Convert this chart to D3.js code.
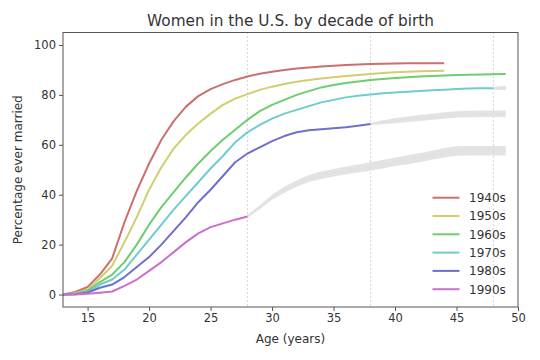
<!DOCTYPE html>
<html><head><meta charset="utf-8">
<script src="https://cdn.jsdelivr.net/npm/d3@7"></script>
<style>body{margin:0;background:#fff}svg{display:block}</style>
</head><body>
<svg id="chart" width="540" height="360"></svg>
<script>
// ---- data ----
const cohorts = ["1940s","1950s","1960s","1970s","1980s","1990s"];
const startAge = 13;
const s1940 = [0,1,3,8,14.5,29,41.5,52.5,62,69.5,75.3,79.5,82.3,84.3,86,87.4,88.5,89.3,90,90.6,91,91.4,91.7,92,92.2,92.4,92.5,92.6,92.7,92.7,92.7,92.7];
const s1950 = [0,0.5,2,6.5,11.5,21,31,42,51,58.5,64,68.5,72.5,76,78.5,80.3,82,83.3,84.4,85.3,86,86.6,87.1,87.6,88,88.4,88.8,89.1,89.3,89.5,89.6,89.7];
const s1960 = [0,0.3,1.5,5,8,13,20,28,35,41,47,52.5,57.5,62,66,70,73.5,76,78,80,81.5,83,84,84.8,85.4,86,86.4,86.8,87.1,87.4,87.6,87.8,88,88.1,88.2,88.3,88.4];
const s1970 = [0,0.2,1,4,6,10,16,22,28,34,39.5,45,50.5,55.5,61,65,68,70.5,72.5,74,75.5,77,78,79,79.7,80.2,80.7,81,81.3,81.6,81.9,82.1,82.4,82.6,82.7,82.7];
const s1980 = [0,0.1,0.8,2.7,4,7,11,15,20,25.5,31,37,42,47.5,53,56.5,59,61.5,63.5,65,65.8,66.2,66.6,67,67.6,68.3];
const s1990 = [0,0,0.3,0.7,1.2,3.5,6,9.5,13,17,21,24.5,27,28.5,30,31.3];
const seriesValues = [s1940,s1950,s1960,s1970,s1980,s1990];
const colors = ["#cc6f6f","#cfcf70","#6fcc6f","#6fcccc","#6f6fcc","#cc6fcc"];

// predictions (gray bands): start age, centre values, half-widths
const pred1970Start = 48, pred1970 = [82.7,82.8], pred1970W = [0.6,0.9];
const pred1980Start = 38, pred1980 = [68.3,69,69.6,70.2,70.7,71.2,71.7,72.1,72.3,72.4,72.4,72.4];
const pred1980W = [0.3,0.8,1,1.1,1.2,1.2,1.3,1.3,1.3,1.3,1.3,1.3];
const pred1990Start = 28, pred1990 = [31.3,35,39,42,44.5,46.5,47.8,48.8,49.7,50.5,51.3,52.2,53.2,54,54.8,55.8,56.8,57.5,57.6,57.6,57.6,57.6];
const pred1990W = [0.3,0.8,1,1.2,1.3,1.4,1.5,1.5,1.6,1.6,1.7,1.7,1.7,1.8,1.8,1.8,1.9,1.9,1.9,1.9,1.9,1.9];

const xTicks = [15,20,25,30,35,40,45,50];
const yTicks = [0,20,40,60,80,100];
const vLines = [28,38,48];

// ---- layout ----
const svg = d3.select("#chart");
const L = 63, R = 518, T = 32.5, B = 307;
const x = d3.scaleLinear().domain([13,50]).range([L,R]);
const y = d3.scaleLinear().domain([-5,105]).range([B,T]);
const font = "DejaVu Sans, sans-serif";

svg.append("clipPath").attr("id","clip").append("rect")
  .attr("x",L).attr("y",T).attr("width",R-L).attr("height",B-T);
const g = svg.append("g").attr("clip-path","url(#clip)");

// dotted verticals
g.selectAll(".vl").data(vLines).join("line")
  .attr("x1",d=>x(d)).attr("x2",d=>x(d)).attr("y1",T).attr("y2",B)
  .attr("stroke","#b8b8b8").attr("stroke-width",1).attr("stroke-dasharray","1.2,2.8");

// prediction bands
const preds = [[pred1970Start,pred1970,pred1970W],[pred1980Start,pred1980,pred1980W],[pred1990Start,pred1990,pred1990W]];
const area = d3.area().x(d=>x(d.a)).y0(d=>y(d.v-d.w)).y1(d=>y(d.v+d.w));
preds.forEach(([s,vals,ws])=>{
  const pts = vals.map((v,i)=>({a:s+i,v:v,w:ws[i]}));
  g.append("path").datum(pts).attr("d",area).attr("fill","#dedede").attr("opacity",0.85);
  g.append("path").datum(pts).attr("d",d3.line().x(d=>x(d.a)).y(d=>y(d.v)))
    .attr("fill","none").attr("stroke","#e2e2e2").attr("stroke-width",2.5);
});

// lines
const line = d3.line().x(d=>x(d.a)).y(d=>y(d.v));
seriesValues.forEach((vals,i)=>{
  const pts = vals.map((v,j)=>({a:startAge+j,v:v}));
  g.append("path").datum(pts).attr("d",line).attr("fill","none")
    .attr("stroke",colors[i]).attr("stroke-width",2)
    .attr("stroke-linejoin","round");
});

// axes
const xAxis = svg.append("g").attr("transform",`translate(0,${B})`)
  .call(d3.axisBottom(x).tickValues(xTicks).tickSize(4).tickPadding(3).tickSizeOuter(0));
const yAxis = svg.append("g").attr("transform",`translate(${L},0)`)
  .call(d3.axisLeft(y).tickValues(yTicks).tickSize(4).tickPadding(3).tickSizeOuter(0));
[xAxis,yAxis].forEach(a=>{
  a.select(".domain").remove();
  a.selectAll("line").attr("stroke","#555");
  a.selectAll("text").attr("fill","#333").style("font-family",font).style("font-size","11.5px");
});
// frame
svg.append("rect").attr("x",L).attr("y",T).attr("width",R-L).attr("height",B-T)
  .attr("fill","none").attr("stroke","#555").attr("stroke-width",1);

// title & labels
svg.append("text").attr("x",(L+R)/2).attr("y",26).attr("text-anchor","middle")
  .style("font-family",font).style("font-size","15.3px").attr("fill","#333")
  .text("Women in the U.S. by decade of birth");
svg.append("text").attr("x",(L+R)/2).attr("y",343).attr("text-anchor","middle")
  .style("font-family",font).style("font-size","12px").attr("fill","#333")
  .text("Age (years)");
svg.append("text").attr("transform",`translate(22,${(T+B)/2}) rotate(-90)`).attr("text-anchor","middle")
  .style("font-family",font).style("font-size","12px").attr("fill","#333")
  .text("Percentage ever married");

// legend
const lg = svg.append("g");
cohorts.forEach((c,i)=>{
  const yy = 197.7 + i*18.3;
  lg.append("line").attr("x1",432.5).attr("x2",459.5).attr("y1",yy).attr("y2",yy)
    .attr("stroke",colors[i]).attr("stroke-width",2);
  lg.append("text").attr("x",469).attr("y",yy+4.3)
    .style("font-family",font).style("font-size","12px").attr("fill","#333").text(c);
});
</script>
</body></html>
